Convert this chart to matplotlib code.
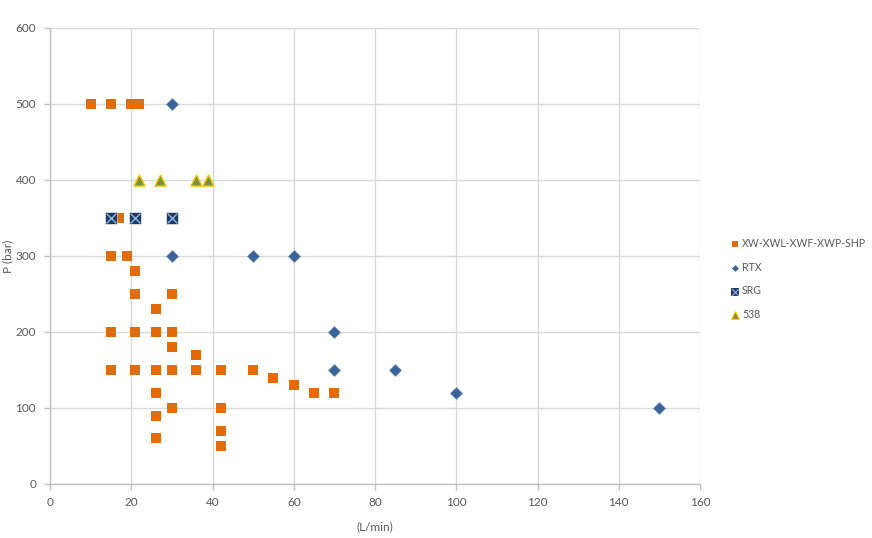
import matplotlib
matplotlib.use("Agg")
import matplotlib.pyplot as plt
from matplotlib.legend_handler import HandlerTuple

plt.rcParams['font.family'] = ['Lato', 'DejaVu Sans']

# Data
xw_x = [10, 15, 20, 22, 17, 15, 19, 21, 21, 30, 26, 15, 21, 26, 30, 30, 36,
        15, 21, 26, 30, 36, 42, 50, 55, 60, 65, 70, 26, 30, 42, 26, 42, 26, 42]
xw_y = [500, 500, 500, 500, 350, 300, 300, 280, 250, 250, 230, 200, 200, 200, 200, 180, 170,
        150, 150, 150, 150, 150, 150, 150, 140, 130, 120, 120, 120, 100, 100, 90, 70, 60, 50]

rtx_x = [30, 30, 50, 60, 70, 70, 85, 100, 150]
rtx_y = [500, 300, 300, 300, 200, 150, 150, 120, 100]

srg_x = [15, 21, 30]
srg_y = [350, 350, 350]

s538_x = [22, 27, 36, 39]
s538_y = [400, 400, 400, 400]

series_names = ["XW-XWL-XWF-XWP-SHP", "RTX", "SRG", "538"]
x_ticks = [0, 20, 40, 60, 80, 100, 120, 140, 160]
y_ticks = [0, 100, 200, 300, 400, 500, 600]

fig = plt.figure(figsize=(8.72, 5.38), dpi=100)
ax = fig.add_axes([50/872, 1 - 484/538, 650/872, 456/538])

orange = '#E36C09'
blue = '#3A6399'
navy = '#1F3864'
olive = '#76923C'
yellow = '#FFC000'

ax.scatter(xw_x, xw_y, marker='s', s=6.5**2, color=orange, linewidths=0, zorder=3)
ax.scatter(rtx_x, rtx_y, marker='D', s=6.0**2, color=blue, edgecolors='#5B82B5', linewidths=0.5, zorder=3)
ax.scatter(srg_x, srg_y, marker='s', s=8**2, color=navy, edgecolors='white', linewidths=0.4, zorder=4)
ax.scatter(srg_x, srg_y, marker='x', s=7**2, color='#8EB4E3', linewidths=1.0, zorder=5)
ax.scatter(s538_x, s538_y, marker='^', s=8**2, color=olive, edgecolors=yellow, linewidths=1.0, zorder=4)

ax.set_xlim(0, 160)
ax.set_ylim(0, 600)
ax.set_xticks(x_ticks)
ax.set_yticks(y_ticks)
ax.grid(True, color='#D9D9D9', linewidth=1.0, zorder=0)
ax.set_axisbelow(True)
for s in ['top', 'right']:
    ax.spines[s].set_visible(False)
for s in ['left', 'bottom']:
    ax.spines[s].set_color('#BFBFBF')
    ax.spines[s].set_linewidth(1.0)
ax.tick_params(axis='both', colors='#BFBFBF', labelcolor='#595959', labelsize=8.5, length=4, width=1)
ax.tick_params(axis='x', pad=5)
ax.tick_params(axis='y', pad=6)

ax.set_xlabel("(L/min)", fontsize=8.5, color='#595959')
ax.xaxis.set_label_coords(0.5, -37/456)
fig.text(8/872, 1 - 256/538, "P (bar)", rotation=90, ha='center', va='center',
         fontsize=8.5, color='#595959')

h1 = ax.scatter([], [], marker='s', s=5**2, color=orange, linewidths=0)
h2 = ax.scatter([], [], marker='D', s=3.5**2, color=blue, linewidths=0)
h3a = ax.scatter([], [], marker='s', s=5.5**2, color=navy, linewidths=0)
h3b = ax.scatter([], [], marker='x', s=5**2, color='#8EB4E3', linewidths=0.8)
h4 = ax.scatter([], [], marker='^', s=5.5**2, color=olive, edgecolors=yellow, linewidths=0.8)

leg = fig.legend([h1, h2, (h3a, h3b), h4], series_names,
                 handler_map={tuple: HandlerTuple(ndivide=1, pad=0)},
                 loc='upper left', bbox_to_anchor=(731/872, 1 - 238/538),
                 frameon=False, fontsize=7.6, labelspacing=1.2, handlelength=0.7,
                 handletextpad=0.35, borderpad=0, borderaxespad=0)
for t in leg.get_texts():
    t.set_color('#595959')

fig.savefig("out.png", dpi=100)
